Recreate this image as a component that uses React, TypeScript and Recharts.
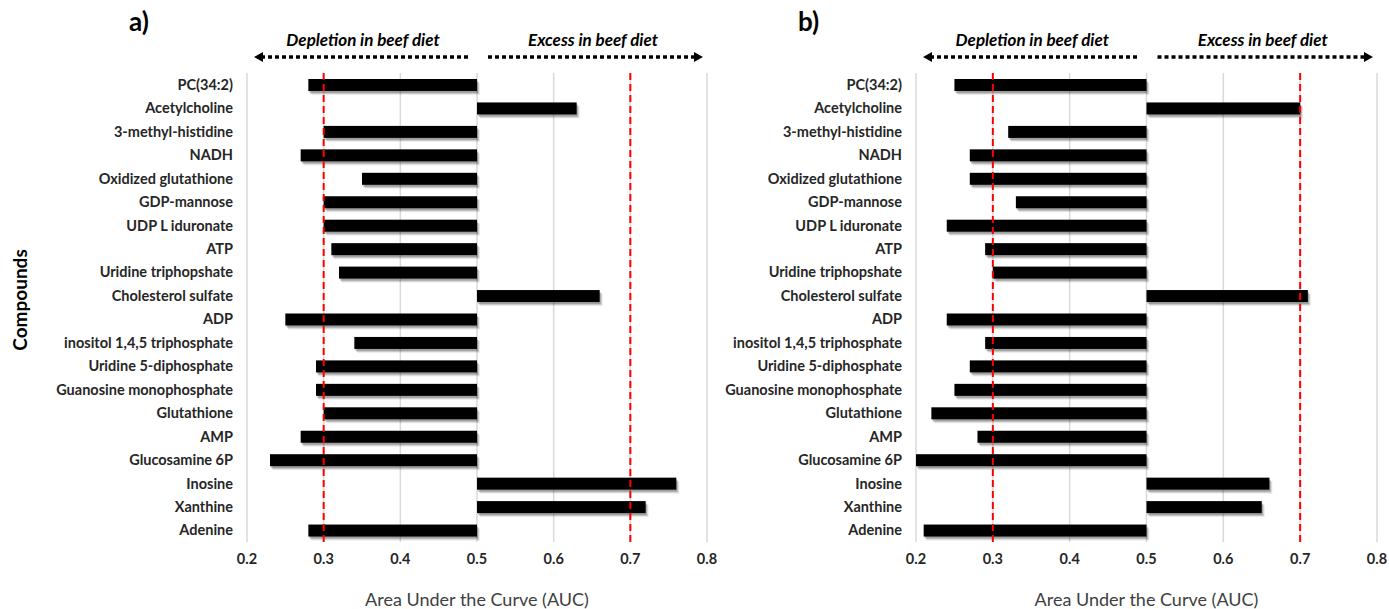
import { BarChart, Bar, XAxis, YAxis, CartesianGrid, ReferenceLine } from "recharts";

const compounds = [
  "PC(34:2)",
  "Acetylcholine",
  "3-methyl-histidine",
  "NADH",
  "Oxidized glutathione",
  "GDP-mannose",
  "UDP L iduronate",
  "ATP",
  "Uridine triphopshate",
  "Cholesterol sulfate",
  "ADP",
  "inositol 1,4,5 triphosphate",
  "Uridine 5-diphosphate",
  "Guanosine monophosphate",
  "Glutathione",
  "AMP",
  "Glucosamine 6P",
  "Inosine",
  "Xanthine",
  "Adenine",
];

// AUC per compound, panel a and panel b
const aucA = [0.28, 0.63, 0.3, 0.27, 0.35, 0.3, 0.3, 0.31, 0.32, 0.66, 0.25, 0.34, 0.29, 0.29, 0.3, 0.27, 0.23, 0.76, 0.72, 0.28];
const aucB = [0.25, 0.7, 0.32, 0.27, 0.27, 0.33, 0.24, 0.29, 0.3, 0.71, 0.24, 0.29, 0.27, 0.25, 0.22, 0.28, 0.2, 0.66, 0.65, 0.21];

const xTicks = [0.2, 0.3, 0.4, 0.5, 0.6, 0.7, 0.8];
const cutoffs = [0.3, 0.7];
const baseline = 0.5;
const xDomain: [number, number] = [0.2, 0.8];

const FONT = "Lato, 'Open Sans', sans-serif";

function toRows(values: number[]) {
  return compounds.map((name, i) => ({ name, range: [baseline, values[i]] }));
}

// black bar with a soft drop shadow faked by stacked offset rects
function ShadowBar(props: any) {
  let { x, y, width, height } = props;
  if (width < 0) {
    x = x + width;
    width = -width;
  }
  return (
    <g>
      <rect x={x + 3} y={y + 4} width={width} height={height} fill="#000" opacity={0.08} />
      <rect x={x + 2} y={y + 3} width={width} height={height} fill="#000" opacity={0.14} />
      <rect x={x + 1} y={y + 2} width={width} height={height} fill="#000" opacity={0.2} />
      <rect x={x} y={y} width={width} height={height} fill="#000" />
    </g>
  );
}

type PanelProps = {
  label: string;
  left: number;
  width: number;
  axisWidth: number;
  values: number[];
};

const TOP = 73;
const HEIGHT = 609;
const M_LEFT = 10;
const M_RIGHT = 12;

function Panel({ label, left, width, axisWidth, values }: PanelProps) {
  const plotLeft = left + M_LEFT + axisWidth;
  const plotRight = left + width - M_RIGHT;
  const sx = (v: number) => plotLeft + ((v - xDomain[0]) / (xDomain[1] - xDomain[0])) * (plotRight - plotLeft);
  const mid = sx(baseline);
  const arrowY = 57;

  return (
    <>
      <div style={{ position: "absolute", left, top: 0 }}>
        <BarChart
          width={width}
          height={HEIGHT}
          data={toRows(values)}
          layout="vertical"
          margin={{ top: TOP, right: M_RIGHT, bottom: 0, left: M_LEFT }}
          barCategoryGap={0}
        >
          <CartesianGrid horizontal={false} stroke="#d9d9d9" strokeWidth={1.5} />
          <XAxis
            type="number"
            domain={xDomain}
            ticks={xTicks}
            height={67}
            axisLine={false}
            tickLine={false}
            tickSize={6}
            tickMargin={6}
            tick={{ fill: "#262626", fontSize: 14.5, fontWeight: 700, fontFamily: FONT }}
            label={{
              value: "Area Under the Curve (AUC)",
              position: "insideBottom",
              offset: 3,
              fill: "#404040",
              fontSize: 18,
              fontFamily: FONT,
            }}
          />
          <YAxis
            type="category"
            dataKey="name"
            width={axisWidth}
            axisLine={false}
            tickLine={false}
            tickSize={6}
            tickMargin={8}
            interval={0}
            tick={{ fill: "#262626", fontSize: 14.5, fontWeight: 700, fontFamily: FONT }}
          />
          <Bar dataKey="range" barSize={12} shape={ShadowBar} isAnimationActive={false} />
          {cutoffs.map((c) => (
            <ReferenceLine key={c} x={c} stroke="#ff0000" strokeWidth={2} strokeDasharray="7 4" />
          ))}
        </BarChart>
      </div>
      <svg
        width={1389}
        height={80}
        style={{ position: "absolute", left: 0, top: 0, pointerEvents: "none" }}
        fontFamily={FONT}
      >
        <text x={sx(0.2) - 118} y={31} fontSize={26} fontWeight={700} fill="#000">
          {label}
        </text>
        <text x={(sx(0.2) + mid) / 2 + 1} y={46} textAnchor="middle" fontSize={17} fontWeight={700} fontStyle="italic" fill="#000">
          Depletion in beef diet
        </text>
        <text x={(mid + sx(0.8)) / 2 + 1} y={46} textAnchor="middle" fontSize={17} fontWeight={700} fontStyle="italic" fill="#000">
          Excess in beef diet
        </text>
        <line x1={sx(0.2) + 14} x2={mid - 8} y1={arrowY} y2={arrowY} stroke="#000" strokeWidth={3.5} strokeDasharray="4 3" />
        <polygon points={`${sx(0.2) + 7},${arrowY} ${sx(0.2) + 16},${arrowY - 5} ${sx(0.2) + 16},${arrowY + 5}`} fill="#000" />
        <line x1={mid + 11} x2={sx(0.8) - 12} y1={arrowY} y2={arrowY} stroke="#000" strokeWidth={3.5} strokeDasharray="4 3" />
        <polygon points={`${sx(0.8) - 4},${arrowY} ${sx(0.8) - 13},${arrowY - 5} ${sx(0.8) - 13},${arrowY + 5}`} fill="#000" />
      </svg>
    </>
  );
}

export default function App() {
  return (
    <div style={{ position: "absolute", left: 0, top: 0, width: 1389, height: 609, background: "#fff", overflow: "hidden" }}>
      <Panel label="a)" left={0} width={719} axisWidth={237} values={aucA} />
      <Panel label="b)" left={680} width={709} axisWidth={226} values={aucB} />
      <svg width={40} height={609} style={{ position: "absolute", left: 0, top: 0 }}>
        <text
          x={0}
          y={0}
          transform="translate(27, 300) rotate(-90)"
          textAnchor="middle"
          fontSize={19}
          fontWeight={700}
          fontFamily={FONT}
          fill="#000"
        >
          Compounds
        </text>
      </svg>
    </div>
  );
}
